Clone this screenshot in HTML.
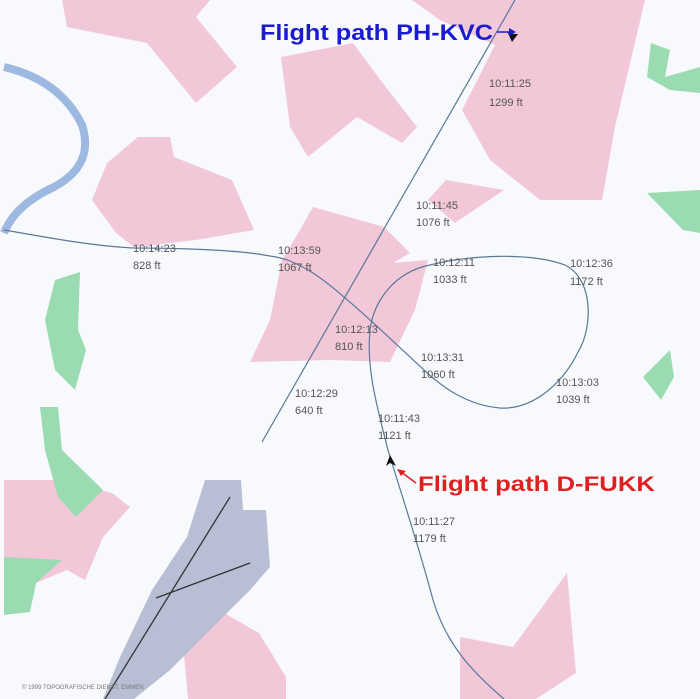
<!DOCTYPE html>
<html><head><meta charset="utf-8"><style>
html,body{margin:0;padding:0;background:#f8f9fc;}
svg{display:block}
text{font-family:"Liberation Sans",sans-serif;}
.l{font-size:11px;fill:#555;}
</style></head><body>
<svg width="700" height="699" viewBox="0 0 700 699" xmlns="http://www.w3.org/2000/svg">
<rect width="700" height="699" fill="#f8f9fc"/>
<g fill="#f2c8d8">
<polygon points="62,0 210,0 196,17 237,67 196,103 147,43 67,27"/>
<polygon points="281,57 353,43 388,90 417,127 402,143 357,117 308,157 290,127"/>
<polygon points="412,0 645,0 615,127 602,200 540,200 490,160 462,110 495,45 440,20"/>
<polygon points="138,137 170,137 174,157 232,180 254,230 196,240 134,247 116,233 92,200 107,163"/>
<polygon points="446,180 504,190 455,223 428,200"/>
<polygon points="313,207 384,227 410,253 393,263 428,260 415,310 390,362 330,360 250,362 270,320 282,260 300,230"/>
<polygon points="567,573 576,673 536,699 460,699 460,637 513,647"/>
<polygon points="219,610 259,633 286,677 286,699 188,699 183,643"/>
<polygon points="4,480 58,480 112,493 130,507 103,537 85,580 67,570 36,583 4,590"/>
</g>
<g fill="#9adbb2">
<polygon points="55,280 80,272 78,330 86,350 75,390 55,370 45,320"/>
<polygon points="40,407 58,407 62,450 103,490 76,517 58,497 45,450"/>
<polygon points="4,557 62,560 36,583 30,612 4,615"/>
<polygon points="651,43 670,50 665,77 700,67 700,93 670,90 647,77"/>
<polygon points="647,193 700,190 700,233 683,230"/>
<polygon points="670,350 674,377 661,400 643,377"/>
</g>
<path d="M4,67 Q60,80 82,125 Q95,165 54,187 Q15,205 4,233" fill="none" stroke="#9db9e2" stroke-width="8"/>
<polygon points="205,480 241,480 243,510 266,510 270,567 250,590 210,630 170,670 134,699 103,699 120,657 152,590 187,537" fill="#b8bfd4"/>
<g stroke="#333" stroke-width="1.3">
<line x1="230" y1="497" x2="105" y2="699"/>
<line x1="250" y1="563" x2="156" y2="598"/>
</g>
<g fill="none" stroke="#5a7898" stroke-width="1.2">
<line x1="515" y1="0" x2="262" y2="442"/>
<path d="M504,699 C470,670 446,643 433,600 C420,550 400,490 388,450 C378,410 366,370 370,330 C374,300 395,272 430,265 C470,255 530,252 565,265 C595,280 592,330 578,352 C565,380 535,410 500,408 C465,405 440,385 424,370 C400,348 340,290 313,273 C295,262 285,258 270,256 C240,250 180,248 134,248 C90,246 40,236 4,230"/>
</g>
<polygon points="512,42 507,31 510,34 518,34" fill="#111"/>
<polygon points="390,455 386,466 390,463 396,466" fill="#111"/>
<text x="260" y="40" font-size="22" font-weight="bold" fill="#1a1ad0" textLength="233" lengthAdjust="spacingAndGlyphs">Flight path PH-KVC</text>
<line x1="497" y1="32" x2="512" y2="32" stroke="#1a1ad0" stroke-width="1.5"/>
<polygon points="516,32 509,28 509,36" fill="#1a1ad0"/>
<text x="418" y="491" font-size="21" font-weight="bold" fill="#e02020" textLength="237" lengthAdjust="spacingAndGlyphs">Flight path D-FUKK</text>
<line x1="416" y1="483" x2="401" y2="472" stroke="#e02020" stroke-width="1.5"/>
<polygon points="397,469 406,471 401,476" fill="#e02020"/>
<g>
<text x="489" y="87" class="l">10:11:25</text><text x="489" y="106" class="l">1299 ft</text>
<text x="416" y="209" class="l">10:11:45</text><text x="416" y="226" class="l">1076 ft</text>
<text x="133" y="252" class="l">10:14:23</text><text x="133" y="269" class="l">828 ft</text>
<text x="278" y="254" class="l">10:13:59</text><text x="278" y="271" class="l">1067 ft</text>
<text x="433" y="266" class="l">10:12:11</text><text x="433" y="283" class="l">1033 ft</text>
<text x="570" y="267" class="l">10:12:36</text><text x="570" y="285" class="l">1172 ft</text>
<text x="335" y="333" class="l">10:12:13</text><text x="335" y="350" class="l">810 ft</text>
<text x="421" y="361" class="l">10:13:31</text><text x="421" y="378" class="l">1060 ft</text>
<text x="556" y="386" class="l">10:13:03</text><text x="556" y="403" class="l">1039 ft</text>
<text x="295" y="397" class="l">10:12:29</text><text x="295" y="414" class="l">640 ft</text>
<text x="378" y="422" class="l">10:11:43</text><text x="378" y="439" class="l">1121 ft</text>
<text x="413" y="525" class="l">10:11:27</text><text x="413" y="542" class="l">1179 ft</text>
</g>
<text x="22" y="689" font-size="6" fill="#777">© 1999 TOPOGRAFISCHE DIENST, EMMEN</text>
</svg>
</body></html>
